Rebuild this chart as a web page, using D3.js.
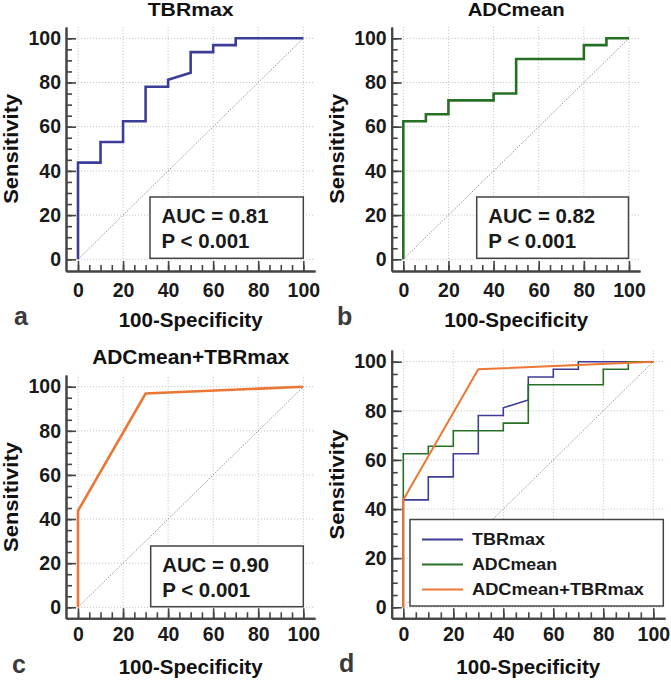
<!DOCTYPE html>
<html>
<head>
<meta charset="utf-8">
<script src="https://cdn.jsdelivr.net/npm/d3@7"></script>
<style>
  html, body { margin: 0; padding: 0; background: #fff; }
  svg { display: block; }
  text { font-family: "Liberation Sans", Arial, sans-serif; font-weight: bold; }
</style>
</head>
<body>
<svg id="chart" width="671" height="680"></svg>
<script>
// ---------------- DATA ----------------
const xTicks = [0, 20, 40, 60, 80, 100];
const yTicks = [0, 20, 40, 60, 80, 100];
const minorTicks = d3.range(0, 101, 5);

const seriesNames = ["TBRmax", "ADCmean", "ADCmean+TBRmax"];

// ROC curves: x = 100-Specificity, y = Sensitivity
const tbrX = [0, 0, 10, 10, 20, 20, 30, 30, 40, 40, 50, 50, 60, 60, 70, 70, 100];
const tbrY = [0, 43.75, 43.75, 53.1, 53.1, 62.5, 62.5, 78.1, 78.1, 81.25, 84.4, 93.75, 93.75, 96.9, 96.9, 100, 100];

const adcX = [0, 0, 10, 10, 20, 20, 40, 40, 50, 50, 80, 80, 90, 90, 100];
const adcY = [0, 62.5, 62.5, 65.6, 65.6, 71.9, 71.9, 75, 75, 90.6, 90.6, 96.9, 96.9, 100, 100];

const comboX = [0, 0, 30, 100];
const comboY = [0, 43.75, 96.9, 100];

const aucLabels = ["AUC = 0.81", "AUC = 0.82", "AUC = 0.90"];
const pLabels = ["P < 0.001", "P < 0.001", "P < 0.001"];
const panelLetters = ["a", "b", "c", "d"];
const xTitle = "100-Specificity";
const yTitle = "Sensitivity";

// ---------------- STYLE / LAYOUT ----------------
const colors = { "TBRmax": "#3d3d99", "ADCmean": "#267026", "ADCmean+TBRmax": "#ec7634" };
const seriesData = {
  "TBRmax": tbrX.map((x, i) => [x, tbrY[i]]),
  "ADCmean": adcX.map((x, i) => [x, adcY[i]]),
  "ADCmean+TBRmax": comboX.map((x, i) => [x, comboY[i]])
};

const panels = [
  { letter: 0, title: "TBRmax", series: ["TBRmax"], auc: 0, lw: 2.6,
    axL: 66, x0: 78, x100: 303.3, axR: 315, axT: 27, y100: 38.3, y0: 259.3, axB: 271,
    titleY: 16, titleLen: 86, titleSize: 18, xPad: 13, letterX: 14, letterY: 325, box: [150, 197, 303.3, 258.3] },
  { letter: 1, title: "ADCmean", series: ["ADCmean"], auc: 1, lw: 2.6,
    axL: 391.7, x0: 403.3, x100: 629, axR: 640, axT: 27, y100: 38.3, y0: 259.3, axB: 271,
    titleY: 16, titleLen: 97, titleSize: 18, xPad: 13, letterX: 337, letterY: 325, box: [476.7, 197, 628.5, 258.3] },
  { letter: 2, title: "ADCmean+TBRmax", series: ["ADCmean+TBRmax"], auc: 2, lw: 2.6,
    axL: 66, x0: 78, x100: 303.3, axR: 315, axT: 375, y100: 386.7, y0: 607.3, axB: 618.3,
    titleY: 364, titleLen: 197, titleSize: 20, xPad: 10, letterX: 12, letterY: 673, box: [150.7, 546, 303.3, 606.7] },
  { letter: 3, title: null, series: ["TBRmax", "ADCmean", "ADCmean+TBRmax"], auc: null, lw: 1.6,
    axL: 391.7, x0: 403.3, x100: 653.3, axR: 665, axT: 350, y100: 361.7, y0: 607.3, axB: 618.3,
    titleY: null, titleLen: null, xPad: 10, letterX: 339, letterY: 672, legend: [410, 519.5, 663.3, 606] }
];

const svg = d3.select("#chart");

panels.forEach(p => {
  const g = svg.append("g");
  const x = d3.scaleLinear().domain([0, 100]).range([p.x0, p.x100]);
  const y = d3.scaleLinear().domain([0, 100]).range([p.y0, p.y100]);
  const xa = x.copy().domain([x.invert(p.axL), x.invert(p.axR)]).range([p.axL, p.axR]);
  const ya = y.copy().domain([y.invert(p.axB), y.invert(p.axT)]).range([p.axB, p.axT]);

  // gridlines
  g.append("g").selectAll("line").data(xTicks).join("line")
    .attr("x1", d => x(d)).attr("x2", d => x(d))
    .attr("y1", p.axB).attr("y2", p.axT)
    .attr("stroke", "#c8c8c8").attr("stroke-width", 1).attr("stroke-dasharray", "1.2,1.8");
  g.append("g").selectAll("line").data(yTicks).join("line")
    .attr("y1", d => y(d)).attr("y2", d => y(d))
    .attr("x1", p.axL).attr("x2", p.axR)
    .attr("stroke", "#c8c8c8").attr("stroke-width", 1).attr("stroke-dasharray", "1.2,1.8");

  // diagonal reference
  g.append("line")
    .attr("x1", x(0)).attr("y1", y(0)).attr("x2", x(100)).attr("y2", y(100))
    .attr("stroke", "#a88c8c").attr("stroke-width", 1).attr("stroke-dasharray", "1.5,1.5");

  // axes
  const fontSize = 19.5;
  const xMinor = d3.axisBottom(xa).tickValues(minorTicks).tickSize(-6).tickSizeOuter(0).tickFormat("");
  const xMajor = d3.axisBottom(xa).tickValues(xTicks).tickSize(-10).tickSizeOuter(0).tickPadding(p.xPad - 1).tickFormat(d3.format("d"));
  const yMinor = d3.axisLeft(ya).tickValues(minorTicks).tickSize(-6).tickSizeOuter(0).tickFormat("");
  const yMajor = d3.axisLeft(ya).tickValues(yTicks).tickSize(-10).tickSizeOuter(0).tickPadding(5).tickFormat(d3.format("d"));

  [xMinor, xMajor].forEach(ax => {
    const a = g.append("g").attr("transform", `translate(0,${p.axB})`).call(ax);
    a.selectAll("path.domain").attr("stroke", "#444").attr("stroke-width", 2);
    a.selectAll(".tick line").attr("stroke", "#444").attr("stroke-width", 1.6);
    a.selectAll("text").attr("font-size", fontSize).attr("fill", "#1a1a1a");
  });
  [yMinor, yMajor].forEach(ax => {
    const a = g.append("g").attr("transform", `translate(${p.axL},0)`).call(ax);
    a.selectAll("path.domain").attr("stroke", "#444").attr("stroke-width", 2);
    a.selectAll(".tick line").attr("stroke", "#444").attr("stroke-width", 1.6);
    a.selectAll("text").attr("font-size", fontSize).attr("fill", "#1a1a1a");
  });

  // curves
  const line = d3.line().x(d => x(d[0])).y(d => y(d[1]));
  p.series.forEach(name => {
    g.append("path").datum(seriesData[name])
      .attr("d", line).attr("fill", "none")
      .attr("stroke", colors[name])
      .attr("stroke-width", name === "ADCmean+TBRmax" && p.series.length > 1 ? 2 : p.lw)
      .attr("stroke-linejoin", "miter");
  });

  // AUC box
  if (p.auc !== null) {
    const [bx1, by1, bx2, by2] = p.box;
    g.append("rect").attr("x", bx1).attr("y", by1).attr("width", bx2 - bx1).attr("height", by2 - by1)
      .attr("fill", "#fff").attr("stroke", "#444").attr("stroke-width", 1.5);
    g.append("text").attr("x", bx1 + 11.5).attr("y", by1 + 25.5).attr("font-size", 19.5)
      .attr("textLength", 107).attr("lengthAdjust", "spacingAndGlyphs")
      .attr("fill", "#1a1a1a").text(aucLabels[p.auc]);
    g.append("text").attr("x", bx1 + 11.5).attr("y", by1 + 50.5).attr("font-size", 19.5)
      .attr("textLength", 88).attr("lengthAdjust", "spacingAndGlyphs")
      .attr("fill", "#1a1a1a").text(pLabels[p.auc]);
  }

  // legend
  if (p.legend) {
    const [lx1, ly1, lx2, ly2] = p.legend;
    g.append("rect").attr("x", lx1).attr("y", ly1).attr("width", lx2 - lx1).attr("height", ly2 - ly1)
      .attr("fill", "#fff").attr("stroke", "#444").attr("stroke-width", 1.5);
    const rowY = d3.scalePoint().domain(seriesNames).range([ly1 + 20, ly1 + 70]);
    const lens = { "TBRmax": 73, "ADCmean": 85, "ADCmean+TBRmax": 172 };
    seriesNames.forEach(name => {
      g.append("line").attr("x1", lx1 + 12).attr("x2", lx1 + 53)
        .attr("y1", rowY(name)).attr("y2", rowY(name))
        .attr("stroke", colors[name]).attr("stroke-width", 2);
      g.append("text").attr("x", lx1 + 62).attr("y", rowY(name) + 5.5)
        .attr("font-size", 16.5).attr("fill", "#1a1a1a")
        .attr("textLength", lens[name]).attr("lengthAdjust", "spacingAndGlyphs")
        .text(name);
    });
  }

  // titles
  if (p.title) {
    g.append("text").attr("x", (p.x0 + p.x100) / 2).attr("y", p.titleY)
      .attr("text-anchor", "middle").attr("font-size", p.titleSize)
      .attr("textLength", p.titleLen).attr("lengthAdjust", "spacingAndGlyphs")
      .attr("fill", "#111").text(p.title);
  }
  // x axis title
  g.append("text").attr("x", (p.x0 + p.x100) / 2).attr("y", p.axB + 56)
    .attr("text-anchor", "middle").attr("font-size", 19.5)
    .attr("textLength", 144).attr("lengthAdjust", "spacingAndGlyphs")
    .attr("fill", "#111").text(xTitle);
  // y axis title
  const yc = (p.y0 + p.y100) / 2;
  g.append("text").attr("transform", `translate(${p.axL - 48},${yc}) rotate(-90)`)
    .attr("text-anchor", "middle").attr("font-size", 19.5)
    .attr("textLength", 110).attr("lengthAdjust", "spacingAndGlyphs")
    .attr("fill", "#111").text(yTitle);
  // panel letter
  g.append("text").attr("x", p.letterX).attr("y", p.letterY)
    .attr("font-size", 25).attr("fill", "#3a3a3a").text(panelLetters[p.letter]);
});
</script>
</body>
</html>
